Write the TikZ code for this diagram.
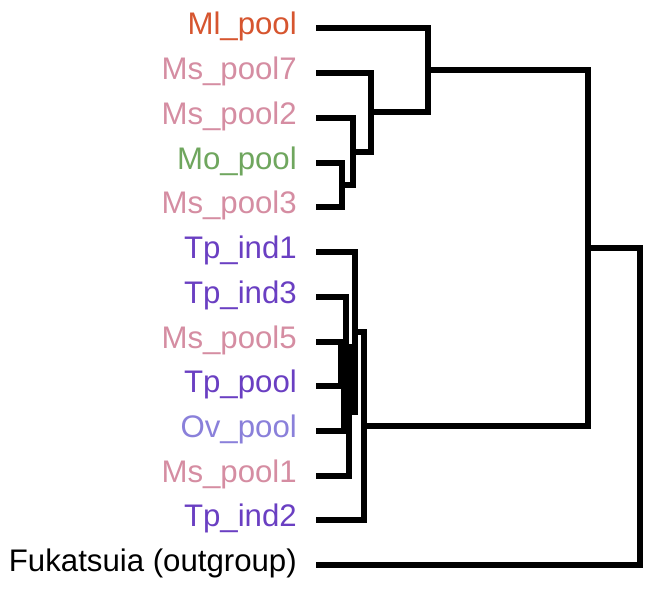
\documentclass[tikz,border=0pt]{standalone}
\usepackage{fontspec}
\setmainfont{Liberation Sans}
\definecolor{cMl}{HTML}{D6552F}
\definecolor{cMs}{HTML}{D58DA2}
\definecolor{cMo}{HTML}{6FA65E}
\definecolor{cTp}{HTML}{6A3FC2}
\definecolor{cOv}{HTML}{8A80DA}
\begin{document}
\begin{tikzpicture}[x=1pt,y=-1pt,
  lab/.style={anchor=base east,inner sep=0pt,font=\fontsize{31.2}{35}\selectfont},
  br/.style={line width=5.6pt,line cap=rect,line join=miter}]
\useasboundingbox (0,0) rectangle (670,596);
% leaves: label nodes and line start coordinates
\foreach \n/\t/\c/\y in {
  1/Ml\_pool/cMl/28, 2/Ms\_pool7/cMs/73, 3/Ms\_pool2/cMs/118, 4/Mo\_pool/cMo/163,
  5/Ms\_pool3/cMs/207, 6/Tp\_ind1/cTp/252, 7/Tp\_ind3/cTp/297, 8/Ms\_pool5/cMs/342,
  9/Tp\_pool/cTp/386, 10/Ov\_pool/cOv/431, 11/Ms\_pool1/cMs/476, 12/Tp\_ind2/cTp/520,
  13/Fukatsuia (outgroup)/black/565}{
  \node[lab,text=\c] (t\n) at (297,\y+6.8) {\t};
  \coordinate (l\n) at (319,\y);
}
% internal nodes
\coordinate (h1) at (342,185);
\coordinate (h2) at (353,152);
\coordinate (h3) at (371,112);
\coordinate (h4) at (428,70);
\coordinate (a) at (340.5,364);
\coordinate (b) at (343.5,398);
\coordinate (c) at (346,347);
\coordinate (d) at (349,412);
\coordinate (e) at (355,332);
\coordinate (f) at (364,426);
\coordinate (g) at (588,248);
\coordinate (r) at (640,565);
% branches: (child1) to parent x, vertical, back to (child2)
\foreach \p/\u/\v in {h1/l4/l5, h2/l3/h1, h3/l2/h2, h4/l1/h3,
  a/l8/l9, b/a/l10, c/l7/b, d/c/l11, e/l6/d, f/e/l12, g/h4/f}{
  \draw[br] (\u) -- (\u -| \p) -- (\v -| \p) -- (\v);
}
\draw[br] (g) -- (g -| r) -- (r) -- (l13);
\end{tikzpicture}
\end{document}
